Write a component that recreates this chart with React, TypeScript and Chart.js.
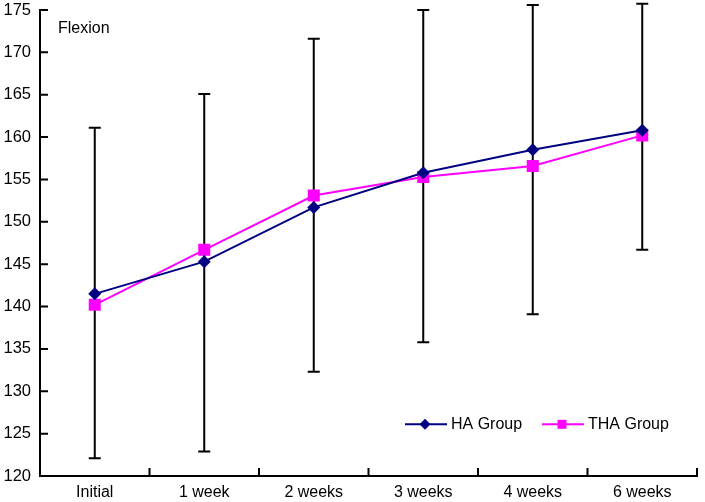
import React, { useEffect, useRef } from "react";
import { Chart, registerables } from "chart.js";

Chart.register(...registerables);

const categories = ["Initial", "1 week", "2 weeks", "3 weeks", "4 weeks", "6 weeks"];
const haGroup = [141.5, 145.3, 151.7, 155.8, 158.5, 160.8];
const thaGroup = [140.2, 146.7, 153.1, 155.3, 156.6, 160.2];
const errLow = [122.1, 122.9, 132.3, 135.8, 139.1, 146.7];
const errHigh = [161.1, 165.1, 171.6, 175.0, 175.6, 175.75];
const yMin = 120;
const yMax = 175;
const yStep = 5;
const panelLabel = "Flexion";

const FONT = "Liberation Sans, Arial, sans-serif";

const customPlugin = {
  id: "custom",
  beforeDatasetsDraw(chart: any) {
    const { ctx, scales } = chart;
    const x = scales.x;
    const y = scales.y;
    ctx.save();
    ctx.strokeStyle = "#000";
    ctx.lineWidth = 2;
    for (let i = 0; i < categories.length; i++) {
      const px = x.getPixelForValue(i);
      const top = y.getPixelForValue(errHigh[i]);
      const bot = y.getPixelForValue(errLow[i]);
      ctx.beginPath();
      ctx.moveTo(px, top);
      ctx.lineTo(px, bot);
      ctx.moveTo(px - 6, top);
      ctx.lineTo(px + 6, top);
      ctx.moveTo(px - 6, bot);
      ctx.lineTo(px + 6, bot);
      ctx.stroke();
    }
    ctx.restore();
  },
  afterDraw(chart: any) {
    const { ctx, scales, chartArea } = chart;
    const x = scales.x;
    const y = scales.y;
    ctx.save();
    ctx.strokeStyle = "#000";
    ctx.lineWidth = 2;
    ctx.lineCap = "butt";
    // axes
    ctx.beginPath();
    ctx.moveTo(chartArea.left, y.getPixelForValue(yMax) - 1);
    ctx.lineTo(chartArea.left, chartArea.bottom);
    ctx.lineTo(chartArea.right + 1, chartArea.bottom);
    ctx.stroke();
    // y ticks (inward)
    ctx.beginPath();
    for (let v = yMin; v <= yMax; v += yStep) {
      const py = y.getPixelForValue(v);
      ctx.moveTo(chartArea.left, py);
      ctx.lineTo(chartArea.left + 8, py);
    }
    // x ticks at category boundaries (inward)
    for (let i = 0; i < categories.length; i++) {
      const px =
        i < categories.length - 1
          ? (x.getPixelForValue(i) + x.getPixelForValue(i + 1)) / 2
          : chartArea.right;
      ctx.moveTo(px, chartArea.bottom);
      ctx.lineTo(px, chartArea.bottom - 8);
    }
    ctx.stroke();

    // panel label
    ctx.fillStyle = "#000";
    ctx.font = `16px ${FONT}`;
    ctx.textBaseline = "middle";
    ctx.textAlign = "left";
    ctx.fillText(panelLabel, chartArea.left + 18, y.getPixelForValue(172.75));

    // legend
    const ly = y.getPixelForValue(126.1);
    const items = chart.data.datasets.map((d: any) => d);
    const starts = [405, 542];
    items.forEach((d: any, idx: number) => {
      const sx = starts[idx];
      ctx.strokeStyle = d.borderColor;
      ctx.lineWidth = 2;
      ctx.beginPath();
      ctx.moveTo(sx, ly);
      ctx.lineTo(sx + 42, ly);
      ctx.stroke();
      ctx.fillStyle = d.backgroundColor;
      ctx.beginPath();
      if (d.pointStyle === "rectRot") {
        const r = 5.5;
        const cx = sx + 20;
        ctx.moveTo(cx, ly - r);
        ctx.lineTo(cx + r, ly);
        ctx.lineTo(cx, ly + r);
        ctx.lineTo(cx - r, ly);
        ctx.closePath();
      } else {
        const s = 4.5;
        const cx = sx + 20;
        ctx.rect(cx - s, ly - s, 2 * s, 2 * s);
      }
      ctx.fill();
      ctx.fillStyle = "#000";
      ctx.font = `16px ${FONT}`;
      ctx.textAlign = "left";
      ctx.textBaseline = "middle";
      ctx.fillText(d.label, sx + 46, ly);
    });
    ctx.restore();
  },
};

export default function App() {
  const ref = useRef<HTMLCanvasElement | null>(null);
  useEffect(() => {
    if (!ref.current) return;
    const chart = new Chart(ref.current, {
      type: "line",
      data: {
        labels: categories,
        datasets: [
          {
            label: "HA Group",
            data: haGroup,
            borderColor: "#000080",
            backgroundColor: "#000080",
            borderWidth: 2,
            pointStyle: "rectRot",
            pointRadius: 6.5,
            pointBorderWidth: 0,
            tension: 0,
          },
          {
            label: "THA Group",
            data: thaGroup,
            borderColor: "#FF00FF",
            backgroundColor: "#FF00FF",
            borderWidth: 2,
            pointStyle: "rect",
            pointRadius: 8.5,
            pointBorderWidth: 0,
            tension: 0,
          },
        ],
      },
      options: {
        responsive: false,
        animation: false,
        layout: { autoPadding: false, padding: { top: 10, right: 8, left: 0, bottom: 0 } },
        plugins: {
          legend: { display: false },
          tooltip: { enabled: false },
          title: { display: false },
        },
        scales: {
          x: {
            type: "category",
            offset: true,
            grid: { display: false, drawTicks: false },
            border: { display: false },
            ticks: {
              color: "#000",
              font: { family: FONT, size: 16 },
              padding: 7,
              maxRotation: 0,
              autoSkip: false,
            },
            afterFit(scale: any) {
              scale.height = 26;
              scale.paddingLeft = 0;
              scale.paddingRight = 0;
            },
          },
          y: {
            min: yMin,
            max: yMax,
            grid: { display: false, drawTicks: false },
            border: { display: false },
            ticks: {
              stepSize: yStep,
              color: "#000",
              font: { family: FONT, size: 16.5 },
              padding: 9,
            },
            afterFit(scale: any) {
              scale.width = 40;
              scale.paddingTop = 0;
              scale.paddingBottom = 0;
            },
          },
        },
      },
      plugins: [customPlugin],
    });
    return () => chart.destroy();
  }, []);
  return (
    <div style={{ position: "fixed", left: 0, top: 0, width: 705, height: 502, background: "#fff" }}>
      <canvas ref={ref} width={705} height={502} />
    </div>
  );
}
